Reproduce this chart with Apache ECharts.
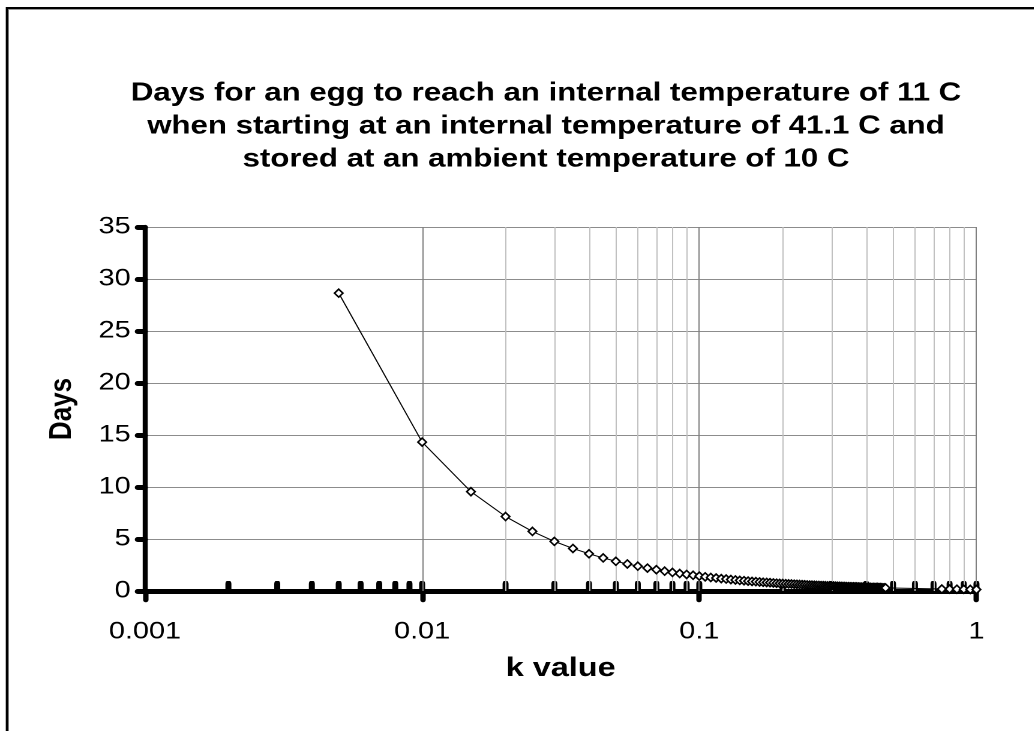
<!DOCTYPE html>
<html>
<head>
<meta charset="utf-8">
<script src="https://cdn.jsdelivr.net/npm/echarts@6/dist/echarts.min.js"></script>
<style>
html,body{margin:0;padding:0;background:#fff;overflow:hidden;width:1034px;height:731px;}
#chart{width:861.67px;height:731px;transform:scaleX(1.2);transform-origin:0 0;}
</style>
</head>
<body>
<div id="chart"></div>
<script>
// k values (x) and days (y)
var kValues = [0.005,0.01,0.015,0.02,0.025,0.03,0.035,0.04,0.045,0.05,0.055,0.06,0.065,0.07,0.075,0.08,0.085,0.09,0.095,0.1,
  0.105,0.11,0.115,0.12,0.125,0.13,0.135,0.14,0.145,0.15,0.155,0.16,0.165,0.17,0.175,0.18,0.185,0.19,0.195,0.2,
  0.205,0.21,0.215,0.22,0.225,0.23,0.235,0.24,0.245,0.25,0.255,0.26,0.265,0.27,0.275,0.28,0.285,0.29,0.295,0.3,
  0.305,0.31,0.315,0.32,0.325,0.33,0.335,0.34,0.345,0.35,0.355,0.36,0.365,0.37,0.375,0.38,0.385,0.39,0.395,0.4,
  0.405,0.41,0.415,0.42,0.425,0.43,0.435,0.44,0.445,0.45,0.455,0.46,0.465,0.47,
  0.75,0.8,0.85,0.9,0.95,1.0];
var daysValues = [28.64,14.32,9.55,7.16,5.73,4.77,4.09,3.58,3.18,2.86,2.60,2.39,2.20,2.05,1.91,1.79,1.68,1.59,1.51,1.43,
  1.36,1.30,1.25,1.19,1.15,1.10,1.06,1.02,0.99,0.95,0.92,0.90,0.87,0.84,0.82,0.80,0.77,0.75,0.73,0.72,
  0.70,0.68,0.67,0.65,0.64,0.62,0.61,0.60,0.58,0.57,0.56,0.55,0.54,0.53,0.52,0.51,0.50,0.49,0.49,0.48,
  0.47,0.46,0.45,0.45,0.44,0.43,0.43,0.42,0.42,0.41,0.40,0.40,0.39,0.39,0.38,0.38,0.37,0.37,0.36,0.36,
  0.35,0.35,0.35,0.34,0.34,0.33,0.33,0.33,0.32,0.32,0.31,0.31,0.31,0.30,
  0.19,0.18,0.17,0.16,0.15,0.14];
var xMajorTicks = [0.001,0.01,0.1,1];
var xMinorTicks = [0.002,0.003,0.004,0.005,0.006,0.007,0.008,0.009,
  0.02,0.03,0.04,0.05,0.06,0.07,0.08,0.09,
  0.2,0.3,0.4,0.5,0.6,0.7,0.8,0.9];
var yTicks = [0,5,10,15,20,25,30,35];
var titleLines = ['Days for an egg to reach an internal temperature of 11 C',
  'when starting at an internal temperature of 41.1 C and',
  'stored at an ambient temperature of 10 C'];

var FONT = '"Liberation Sans", Arial, sans-serif';
var chart = echarts.init(document.getElementById('chart'), null, {renderer:'canvas', devicePixelRatio:2});

var pts = kValues.map(function(k,i){return [k, daysValues[i]];});
var minorGrid = xMinorTicks.map(function(v){return {xAxis:v, lineStyle:{color:'#c0c0c0', width:1, type:'solid'}};});
var majorGrid = xMajorTicks.slice(1).map(function(v){return {xAxis:v, lineStyle:{color:'#808080', width:1, type:'solid'}};});
var bumps = xMinorTicks.concat(xMajorTicks.slice(1)).map(function(v){return [v,0];});

chart.setOption({
  animation:false,
  backgroundColor:'#ffffff',
  title:{
    text: titleLines.join('\n'),
    left: 450, top: 72, textAlign:'center',
    textStyle:{fontFamily:FONT, fontSize:26, fontWeight:'bold', color:'#000', lineHeight:33}
  },
  graphic:[
    {type:'rect', shape:{x:7,y:9.5,width:1100,height:800}, style:{fill:'none', stroke:'#999', lineWidth:1}, silent:true},
    {type:'rect', shape:{x:5.8,y:8,width:1100,height:800}, style:{fill:'none', stroke:'#000', lineWidth:2}, silent:true}
  ],
  grid:{left:120.8, right:48.3, top:227, bottom:140, containLabel:false},
  xAxis:{
    type:'log', logBase:10, min:0.001, max:1,
    name:'k value', nameLocation:'middle', nameGap:64,
    nameTextStyle:{fontFamily:FONT, fontSize:27, fontWeight:'bold', color:'#000'},
    axisLine:{show:true, lineStyle:{color:'#000', width:5, cap:'round'}},
    axisTick:{show:true, inside:false, length:9, lineStyle:{color:'#000', width:4.5, cap:'round'}},
    axisLabel:{fontFamily:FONT, fontSize:24, color:'#000', margin:29,
      formatter:function(v){ return String(+v.toPrecision(3)); }},
    splitLine:{show:false},
    minorTick:{show:false}
  },
  yAxis:{
    type:'value', min:0, max:35, interval:5,
    name:'Days', nameLocation:'middle', nameGap:56, nameRotate:90,
    nameTextStyle:{fontFamily:FONT, fontSize:26, fontWeight:'bold', color:'#000'},
    axisLine:{show:true, lineStyle:{color:'#000', width:4.2, cap:'round'}},
    axisTick:{show:true, inside:false, length:6, lineStyle:{color:'#000', width:5, cap:'round'}},
    axisLabel:{fontFamily:FONT, fontSize:24, color:'#000', margin:12},
    splitLine:{show:true, lineStyle:{color:'#8c8c8c', width:1}}
  },
  series:[
    {
      type:'line', name:'grid', data:[], silent:true, z:1,
      markLine:{silent:true, symbol:['none','none'], label:{show:false}, animation:false,
        data: minorGrid.concat(majorGrid)}
    },
    {
      type:'scatter', name:'ticks', data:bumps, silent:true, z:3,
      symbol:'roundRect', symbolSize:[5,12], symbolOffset:[0,-4],
      itemStyle:{color:'#000', opacity:1}, clip:false
    },
    {
      type:'line', name:'Days', data:pts, z:5,
      symbol:'diamond', symbolSize:[7,8], showAllSymbol:true,
      lineStyle:{color:'#000', width:1},
      itemStyle:{color:'#fff', borderColor:'#000', borderWidth:1.5},
      clip:false
    }
  ]
});
</script>
</body>
</html>
